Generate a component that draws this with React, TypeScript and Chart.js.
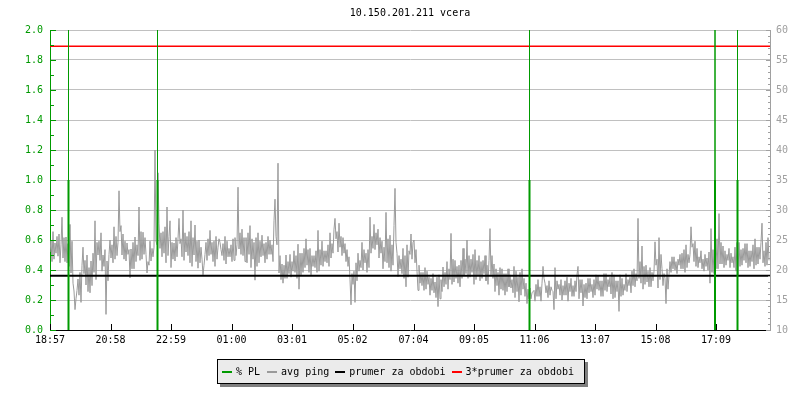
import React, { useEffect, useRef } from 'react';
import { Chart, registerables } from 'chart.js';

Chart.register(...registerables);

const TITLE = '10.150.201.211 vcera';
const PERIOD_MIN = 1440;
const TIME_TICKS = [0, 121, 242, 363, 484, 605, 727, 848, 969, 1090, 1211, 1332];
const TIME_LABELS = ['18:57', '20:58', '22:59', '01:00', '03:01', '05:02', '07:04', '09:05', '11:06', '13:07', '15:08', '17:09'];

// avg ping (ms), read in 8-minute windows: PING_x holds two samples per window,
// PING_xb the next two samples of the same window. One sample every 2 minutes from 18:57.
const PING_STEP_MIN = 2;
const PING_A = [23, 25, 21.8, 24.5, 22.3, 26, 28.8, 22, 25.5, 21.2,
  27.6, 19.5, 16.5, 13.4, 18.5, 15.8, 20.8, 23.8, 17.5, 22.5,
  16.2, 21.5, 19.6, 28.2, 22.5, 24.8, 19.8, 22.5, 12.6, 21.5,
  25, 22, 27.2, 21.8, 24.6, 33.2, 22.5, 26, 21.5, 24.5,
  18.7, 23.5, 20.2, 25.5, 22.4, 30.5, 21.8, 26.3, 22.6, 19.5,
  24.8, 21.5, 23.8, 40, 36.2, 27.8, 22.2, 26.4, 21.2, 30.5];
const PING_Ab = [21.4, 26.4, 22.8, 25.6, 21.2, 24.2, 25.4, 21.4, 24.4, 20.6,
  24.8, 17.8, 15.2, 16.6, 19.6, 14.6, 19.4, 21.6, 16.4, 20.4,
  17.4, 22.8, 18.4, 24.6, 21.6, 26.2, 20.6, 23.4, 18.2, 22.6,
  24.2, 21.2, 25.6, 22.4, 26.4, 27.4, 21.8, 24.8, 22.6, 23.4,
  20.2, 24.6, 21.4, 24.2, 21.6, 26.4, 22.6, 25.4, 21.4, 20.8,
  23.6, 22.2, 24.8, 24.2, 23.6, 26.2, 22.8, 27.2, 22.4, 25.6];
const PING_B = [28.2, 20.4, 24.5, 21.5, 25.2, 28.6, 22.2, 30, 23, 25.6,
  21.2, 28.2, 22.5, 27.5, 20.3, 25, 21.8, 19.2, 24.6, 21.6,
  26.6, 22.6, 24.8, 20.6, 23.8, 25.2, 22.4, 24.4, 21, 24.8,
  22.2, 24.2, 21.6, 25.4, 33.8, 23.5, 26.8, 22.4, 25.4, 21.2,
  27.4, 20.4, 24.6, 18.3, 26.2, 21.2, 25.8, 22.4, 24.6, 21.8,
  25, 22.6, 28.2, 31.8, 37.8, 19.5, 21, 17.8, 22.5, 18.6];
const PING_Bb = [24.6, 21.8, 25.4, 22.2, 24.4, 25.2, 21.6, 26.2, 22.4, 26.4,
  20.6, 25.4, 21.4, 24.8, 21.2, 23.8, 20.8, 22.6, 25.2, 22.4,
  24.6, 21.4, 25.6, 21.8, 24.6, 23.4, 21.6, 25.6, 22.2, 23.6,
  21.4, 25.2, 22.4, 24.2, 26.2, 22.6, 25.4, 21.4, 26.2, 22.6,
  25.2, 21.8, 25.4, 20.6, 24.8, 22.2, 24.4, 21.2, 25.6, 22.6,
  24.2, 21.4, 25.6, 24.2, 22.4, 18.4, 20.8, 18.6, 21.4, 19.4];
const PING_C = [22.6, 18.8, 23.2, 19.6, 24.3, 16.8, 22.8, 19.6, 25.2, 20.8,
  23.6, 19.2, 22.4, 20.4, 26.6, 19.8, 24.8, 20.6, 23.2, 21.2,
  26.2, 22, 26.8, 28.6, 23, 27.8, 22.4, 25.4, 21.4, 23.4,
  18.4, 14.2, 19.8, 14.6, 22.8, 19.8, 24.6, 20, 22.8, 19.6,
  28.8, 22.8, 27.6, 23.4, 26.8, 22, 24.8, 20.2, 29.6, 21.2,
  25.8, 19.8, 27.4, 33.6, 18.9, 22.4, 19.4, 23.6, 17.2, 24.2];
const PING_Cb = [21.4, 19.8, 22.4, 18.6, 22.8, 19.2, 23.6, 20.4, 23.4, 19.6,
  22.4, 20.6, 23.2, 19.6, 23.4, 20.8, 23.2, 21.4, 24.2, 20.6,
  24.4, 22.8, 25.2, 26.4, 23.8, 25.6, 22.8, 24.4, 20.6, 22.2,
  19.4, 17.6, 21.2, 18.2, 21.6, 20.4, 23.4, 21.2, 23.4, 20.4,
  25.6, 23.6, 26.2, 24.2, 25.4, 22.8, 23.8, 21.4, 25.2, 20.4,
  24.2, 20.8, 24.6, 22.8, 20.2, 21.8, 18.6, 22.4, 18.8, 23.2];
const PING_D = [22.6, 26, 25, 21.2, 16.6, 20.8, 17.4, 19.6, 16.8, 19.8,
  15.8, 18.6, 16.2, 18, 13.9, 19.2, 16.4, 20.5, 17.6, 21.4,
  18.4, 26.1, 18, 21.6, 17.8, 20.8, 18.6, 23.6, 19.4, 25,
  18.8, 21.8, 17.6, 23.4, 19, 22.4, 18.6, 21.6, 18.2, 20.8,
  26.9, 19.2, 21, 16.4, 19.6, 15.8, 20.2, 16.6, 19.4, 16.4,
  19.2, 17, 20.6, 15.4, 18.8, 14.7, 20.2, 16.8, 17.8, 14.4];
const PING_Db = [21.8, 24.6, 23.4, 19.8, 17.8, 19.6, 16.6, 20.4, 17.6, 18.8,
  16.6, 19.4, 15.4, 18.8, 15.2, 18.4, 17.2, 19.6, 16.8, 20.2,
  17.6, 21.8, 18.6, 20.6, 17.2, 21.6, 19.2, 21.8, 18.6, 22.4,
  19.6, 22.6, 18.4, 21.6, 18.2, 21.4, 19.4, 22.4, 17.6, 21.6,
  22.4, 18.6, 20.2, 17.4, 20.4, 16.8, 19.4, 15.8, 20.2, 17.2,
  18.4, 16.2, 19.8, 16.4, 19.6, 15.8, 18.6, 15.6, 16.8, 15.2];
const PING_E = [17, 15.2, 16.6, 14.8, 18.4, 15.6, 17.8, 20.6, 16.2, 17.4,
  15.8, 17.2, 13.4, 20.4, 16.8, 17.6, 15, 17.4, 15.8, 18.8,
  16.4, 18.6, 15.6, 18.2, 20.6, 15.2, 18.4, 14, 17.8, 15.2,
  18.6, 16.4, 18.4, 15.8, 19, 16.6, 18.2, 15.6, 19.4, 16.4,
  18.8, 16, 19.2, 15.4, 18.2, 13.1, 18.6, 15.8, 19.4, 16.4,
  18.8, 16.2, 20.2, 17.2, 28.6, 18.6, 24, 16.8, 20.8, 18];
const PING_Eb = [16.2, 16.4, 17.6, 15.6, 17.2, 14.8, 18.6, 17.8, 15.4, 18.2,
  16.6, 16.4, 15.2, 18.2, 15.8, 18.4, 15.8, 18.2, 14.8, 17.8,
  15.6, 17.4, 16.4, 19.2, 18.4, 16.2, 17.6, 15.4, 18.6, 16.2,
  17.6, 15.4, 19.2, 16.8, 18.2, 15.6, 19.4, 16.6, 18.4, 17.2,
  19.6, 15.2, 18.2, 16.4, 19.2, 15.6, 17.6, 16.6, 18.4, 17.4,
  19.8, 17.4, 19.4, 18.2, 21.4, 17.8, 20.6, 17.6, 19.8, 17.2];
const PING_F = [20.4, 17.2, 19.8, 24.7, 17, 25.4, 20.2, 17.4, 14.4, 20.2,
  21.4, 19.6, 22.2, 20, 21.8, 20.8, 22.8, 20.2, 24.2, 20.4,
  22.6, 27.2, 21.4, 24.8, 20.4, 22.2, 20.2, 21.8, 20.6, 22,
  17.8, 26.9, 19.4, 24.2, 20.2, 29.4, 21, 24, 20.8, 22.6,
  20.4, 22.8, 20.4, 23.8, 19.2, 24.6, 20.8, 23.6, 21.2, 24.4,
  20.6, 23.2, 20.2, 25.2, 21, 23.8, 27.8, 21.2, 24.6, 20.8];
const PING_Fb = [19.6, 18.2, 20.8, 21.8, 18.4, 22.6, 19.4, 18.6, 16.8, 19.2,
  22.2, 20.2, 21.4, 19.4, 22.6, 20.2, 23.4, 19.6, 22.6, 21.2,
  23.8, 24.4, 20.6, 23.6, 21.2, 23.2, 19.8, 22.6, 20, 23,
  19.6, 23.4, 20.2, 25.2, 21, 24.6, 20.4, 23.2, 21.6, 23.6,
  21.2, 22.2, 19.8, 24.6, 20.6, 23.4, 21.6, 24.4, 20.4, 23.2,
  21.4, 24.2, 20.8, 23.8, 21.8, 24.6, 23.2, 20.6, 25.4, 21.6];

// % packet loss events (minutes from start): sustained level and short peak (off-scale)
const PL_TIMES = [37, 215, 959, 1330, 1375];
const PL_LEVELS = [1, 1, 1, 1, 1];
const PL_PEAKS = [2, 2, 2, 2, 2];

const MEAN_PING = 19.05;
const MEAN3_PING = 57.3;

const GREEN = '#009a00';
const GRAY = '#9a9a9a';
const AXIS_GRAY = '#a0a0a0';
const FONT = "'DejaVu Sans Mono', monospace";

const LEGEND_ITEMS = [
  { label: '% PL', color: GREEN },
  { label: 'avg ping', color: GRAY },
  { label: 'prumer za obdobi', color: '#000000' },
  { label: '3*prumer za obdobi', color: '#ff0000' },
];

function weave(a: number[], b: number[]): number[] {
  const out: number[] = [];
  for (let k = 0; k < a.length; k += 2) out.push(a[k], a[k + 1], b[k], b[k + 1]);
  return out;
}

const axisTicks = {
  id: 'axisTicks',
  afterDraw(chart: any) {
    const { ctx, chartArea: a, scales } = chart;
    const yl = scales.yL, yr = scales.yR, x = scales.x;
    ctx.save();
    ctx.lineWidth = 1;
    ctx.strokeStyle = GREEN;
    for (let i = 0; i <= 20; i++) {
      const py = Math.round(yl.getPixelForValue(i / 10)) + 0.5;
      const len = i % 2 === 0 ? 6 : 4;
      ctx.beginPath(); ctx.moveTo(Math.round(a.left), py); ctx.lineTo(Math.round(a.left) + len, py); ctx.stroke();
    }
    ctx.strokeStyle = AXIS_GRAY;
    for (let v = 10; v <= 60; v++) {
      const py = Math.round(yr.getPixelForValue(v)) + 0.5;
      const len = v % 5 === 0 ? 5 : 3;
      ctx.beginPath(); ctx.moveTo(Math.round(a.right) + 1, py); ctx.lineTo(Math.round(a.right) + 1 - len, py); ctx.stroke();
    }
    ctx.strokeStyle = '#000';
    TIME_TICKS.forEach((t) => {
      const px = Math.round(x.getPixelForValue(t)) + 0.5;
      ctx.beginPath(); ctx.moveTo(px, Math.round(a.bottom)); ctx.lineTo(px, Math.round(a.bottom) - 6); ctx.stroke();
    });
    ctx.restore();
  },
};

export default function App() {
  const ref = useRef<HTMLCanvasElement | null>(null);

  useEffect(() => {
    if (!ref.current) return;
    Chart.defaults.font.family = FONT;
    const pingValues = [
      ...weave(PING_A, PING_Ab), ...weave(PING_B, PING_Bb), ...weave(PING_C, PING_Cb),
      ...weave(PING_D, PING_Db), ...weave(PING_E, PING_Eb), ...weave(PING_F, PING_Fb),
    ];
    const ping = pingValues.map((v, i) => ({ x: i * PING_STEP_MIN, y: v }));
    const pl: { x: number; y: number }[] = [{ x: 0, y: 0 }];
    PL_TIMES.forEach((t, i) => {
      pl.push({ x: t, y: 0 }, { x: t, y: PL_LEVELS[i] }, { x: t, y: PL_PEAKS[i] }, { x: t, y: 0 });
    });
    pl.push({ x: PERIOD_MIN, y: 0 });

    const font = { family: FONT, size: 10 };
    const chart = new Chart(ref.current, {
      type: 'line',
      data: {
        datasets: [
          {
            label: '% PL', data: pl, yAxisID: 'yL', borderColor: GREEN, borderWidth: 1,
            pointRadius: 0, order: 0,
            segment: {
              borderColor: (c: any) => (c.p0.parsed.y === 0 && c.p1.parsed.y === 0 ? 'rgba(0,0,0,0)' : GREEN),
              borderWidth: (c: any) => (c.p0.parsed.y === 0 && c.p1.parsed.y > 0 ? 2 : 1),
            },
          } as any,
          {
            label: 'avg ping', data: ping, yAxisID: 'yR', borderColor: GRAY, borderWidth: 1,
            pointRadius: 0, order: 3,
          },
          {
            label: 'prumer za obdobi', data: [{ x: 0, y: MEAN_PING }, { x: PERIOD_MIN, y: MEAN_PING }],
            yAxisID: 'yR', borderColor: '#000', borderWidth: 2, pointRadius: 0, order: 2,
          },
          {
            label: '3*prumer za obdobi', data: [{ x: 0, y: MEAN3_PING }, { x: PERIOD_MIN, y: MEAN3_PING }],
            yAxisID: 'yR', borderColor: '#ff0000', borderWidth: 1.5, pointRadius: 0, order: 1,
          },
        ],
      },
      options: {
        animation: false,
        responsive: false,
        events: [],
        layout: { padding: { top: 30, left: 0, right: 0, bottom: 0 } },
        plugins: { legend: { display: false }, tooltip: { enabled: false }, title: { display: false } },
        scales: {
          x: {
            type: 'linear', min: 0, max: PERIOD_MIN,
            afterBuildTicks: (s: any) => { s.ticks = TIME_TICKS.map((v) => ({ value: v })); },
            afterFit: (s: any) => { s.height = 70; },
            ticks: {
              autoSkip: false, maxRotation: 0, color: '#000', font, padding: 4,
              callback: (v: any) => { const i = TIME_TICKS.indexOf(Number(v)); return i >= 0 ? TIME_LABELS[i] : ''; },
            },
            grid: { display: false, drawTicks: false },
            border: { display: true, color: '#000', width: 1 },
          },
          yL: {
            type: 'linear', position: 'left', min: 0, max: 2,
            afterFit: (s: any) => { s.width = 50; },
            ticks: { stepSize: 0.2, color: GREEN, font, padding: 7, callback: (v: any) => Number(v).toFixed(1) },
            grid: {
              drawTicks: false,
              color: (c: any) => (c.tick && c.tick.value === 0 ? 'rgba(0,0,0,0)' : '#c0c0c0'),
              lineWidth: 1,
            },
            border: { display: true, color: GREEN, width: 1 },
          },
          yR: {
            type: 'linear', position: 'right', min: 10, max: 60,
            afterFit: (s: any) => { s.width = 30; },
            ticks: { stepSize: 5, color: AXIS_GRAY, font, padding: 6 },
            grid: { display: false, drawTicks: false },
            border: { display: true, color: AXIS_GRAY, width: 1 },
          },
        },
      } as any,
      plugins: [axisTicks],
    });
    return () => chart.destroy();
  }, []);

  return (
    <div style={{ position: 'fixed', left: 0, top: 0, width: 800, height: 400, background: '#fff' }}>
      <canvas ref={ref} width={800} height={400} style={{ display: 'block', width: 800, height: 400 }} />
      <div style={{
        position: 'absolute', left: 50, top: 7, width: 720, textAlign: 'center',
        font: `10px ${FONT}`, lineHeight: '12px', color: '#000',
      }}>{TITLE}</div>
      <div style={{
        position: 'absolute', left: 217, top: 359, width: 362, height: 23,
        background: '#ebebeb', border: '1px solid #000', boxShadow: '3px 3px 0 #7f7f7f',
        display: 'flex', alignItems: 'center', paddingLeft: 4, boxSizing: 'content-box',
        font: `10px ${FONT}`, lineHeight: '12px', color: '#000', whiteSpace: 'nowrap',
      }}>
        {LEGEND_ITEMS.map((it, i) => (
          <span key={i} style={{ display: 'flex', alignItems: 'center', marginRight: i === 0 ? 7 : 6 }}>
            <span style={{ display: 'inline-block', width: 10, height: 2, background: it.color, marginRight: 4 }} />
            <span>{it.label}</span>
          </span>
        ))}
      </div>
    </div>
  );
}
